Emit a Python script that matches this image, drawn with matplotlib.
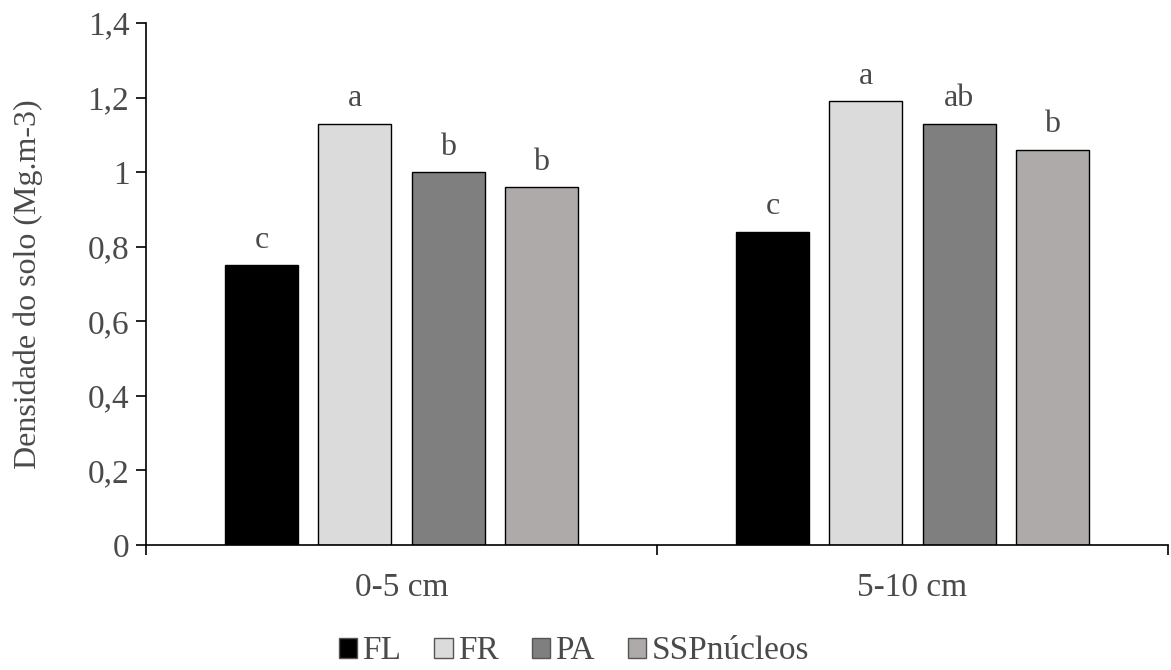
import numpy as np
import matplotlib.pyplot as plt
from matplotlib.ticker import FixedLocator

# dados
camadas = ["0-5 cm", "5-10 cm"]
tratamentos = ["FL", "FR", "PA", "SSPnúcleos"]
densidade = {
    "FL": [0.75, 0.84],
    "FR": [1.13, 1.19],
    "PA": [1.00, 1.13],
    "SSPnúcleos": [0.96, 1.06],
}
letras = {
    "FL": ["c", "c"],
    "FR": ["a", "a"],
    "PA": ["b", "ab"],
    "SSPnúcleos": ["b", "b"],
}
cores = ["#000000", "#dcdbdc", "#7f7f7f", "#adaaa9"]

plt.rcParams['font.family'] = ['Liberation Serif', 'DejaVu Serif']
cor_txt = "#4a4a4a"

fig = plt.figure(figsize=(11.71, 6.70), dpi=100)
ax = fig.add_axes([0.1247, 0.1866, 0.9974 - 0.1247, 0.9657 - 0.1866])

x = np.arange(len(camadas))
passo = 0.1826
largura = 0.143
for i, t in enumerate(tratamentos):
    pos = x + (i - 1.5) * passo
    ax.bar(pos, densidade[t], width=largura, color=cores[i], edgecolor="black",
           linewidth=1.0, label=t)
    for p, v, l in zip(pos, densidade[t], letras[t]):
        ax.text(p, v + 0.028, l, ha="center", va="bottom", fontsize=23, color=cor_txt)

ax.set_xlim(-0.5, 1.5)
ax.set_ylim(0, 1.4)
ax.set_yticks(np.arange(0, 1.41, 0.2))
ax.set_yticklabels(["0", "0,2", "0,4", "0,6", "0,8", "1", "1,2", "1,4"])
ax.set_xticks(x)
ax.set_xticklabels(camadas)
ax.xaxis.set_minor_locator(FixedLocator([-0.5, 0.5, 1.5]))
ax.tick_params(axis="x", which="major", length=0, pad=20, labelsize=24, labelcolor=cor_txt)
ax.tick_params(axis="x", which="minor", length=7, width=1.2, direction="out")
ax.tick_params(axis="y", length=7, width=1.2, direction="out", labelsize=24, labelcolor=cor_txt, pad=5)
ax.spines["top"].set_visible(False)
ax.spines["right"].set_visible(False)
ax.spines["left"].set_linewidth(1.2)
ax.spines["bottom"].set_linewidth(1.2)
ax.set_ylabel("Densidade do solo (Mg.m-3)", fontsize=23, color=cor_txt, labelpad=32)

leg = fig.legend(loc="lower center", bbox_to_anchor=(0.49, -0.022), ncol=4, frameon=False,
                 fontsize=24, handlelength=0.55, handleheight=0.55, handletextpad=0.15,
                 columnspacing=1.0, borderpad=0.05)
for t in leg.get_texts():
    t.set_color(cor_txt)
for h in leg.legend_handles:
    h.set_edgecolor("#555555")

fig.savefig("out.png", dpi=100)
